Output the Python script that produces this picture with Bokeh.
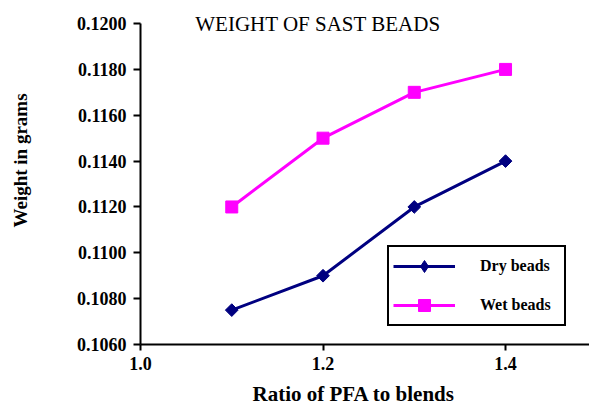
import numpy as np
from bokeh.plotting import figure
from bokeh.models import FixedTicker, NumeralTickFormatter, Label, Legend, LegendItem, Title
from bokeh.embed import file_html
from bokeh.resources import INLINE

# ---- data ----
ratio = [1.1, 1.2, 1.3, 1.4]
dry_beads = [0.1075, 0.1090, 0.1120, 0.1140]
wet_beads = [0.1120, 0.1150, 0.1170, 0.1180]
x_ticks = [1.0, 1.2, 1.4]
y_ticks = [0.1060, 0.1080, 0.1100, 0.1120, 0.1140, 0.1160, 0.1180, 0.1200]
title_text = "WEIGHT OF SAST BEADS"
x_label = "Ratio of PFA to blends"
y_label = "Weight in grams"
series_names = ["Dry beads", "Wet beads"]

SERIF = "Liberation Serif"

p = figure(width=589, height=412, output_backend="svg", toolbar_location=None,
           x_range=(1.0, 1.492), y_range=(0.1060, 0.12057),
           min_border_left=140, min_border_right=0, min_border_top=10, min_border_bottom=68)
p.outline_line_color = None
p.xgrid.visible = False
p.ygrid.visible = False
p.background_fill_color = "white"
p.border_fill_color = "white"

dry_col = "#000080"
wet_col = "#FF00FF"

dry_line = p.line(ratio, dry_beads, line_color=dry_col, line_width=3)
p.scatter(ratio, dry_beads, marker="square", angle=np.pi / 4, size=9,
          fill_color=dry_col, line_color=dry_col)
dry_key = p.scatter(ratio, dry_beads, marker="diamond", size=12,
                    fill_color=dry_col, line_color=dry_col, visible=False)
wet_line = p.line(ratio, wet_beads, line_color=wet_col, line_width=3)
wet_pts = p.scatter(ratio, wet_beads, marker="square", size=12,
                    fill_color=wet_col, line_color=wet_col)

for ax in (p.xaxis[0], p.yaxis[0]):
    ax.axis_line_width = 2
    ax.axis_line_color = "black"
    ax.major_tick_line_width = 2
    ax.major_tick_line_color = "black"
    ax.major_tick_in = 0
    ax.major_tick_out = 7
    ax.minor_tick_line_color = None
    ax.major_label_text_font = SERIF
    ax.major_label_text_font_style = "bold"
    ax.major_label_text_font_size = "18px"
    ax.major_label_text_color = "black"

p.xaxis.ticker = FixedTicker(ticks=x_ticks)
p.xaxis.formatter = NumeralTickFormatter(format="0.0")
p.xaxis.major_tick_out = 6
p.xaxis.major_label_standoff = 6

p.yaxis.ticker = FixedTicker(ticks=y_ticks)
p.yaxis.formatter = NumeralTickFormatter(format="0.0000")
p.yaxis.bounds = (0.1060, 0.1200)
p.yaxis.major_label_standoff = 7

# spacer between y tick labels and the y axis title
spacer = Title(text=" ", standoff=30, text_font_size="1px")
p.add_layout(spacer, "left")
ylab = Title(text=y_label, align="left", offset=117, standoff=16, vertical_align="top",
             text_font=SERIF, text_font_style="bold", text_font_size="19px",
             text_color="black")
p.add_layout(ylab, "left")
xlab = Title(text=x_label, align="left", offset=112, standoff=14,
             text_font=SERIF, text_font_style="bold", text_font_size="21px",
             text_color="black")
p.add_layout(xlab, "below")

title = Label(x=1.06, y=0.1200, text=title_text, text_font=SERIF,
              text_font_size="21px", text_color="black",
              text_baseline="middle", text_align="left")
p.add_layout(title)

lg = Legend(items=[LegendItem(label=series_names[0], renderers=[dry_line, dry_key]),
                   LegendItem(label=series_names[1], renderers=[wet_line, wet_pts])])
lg.location = (247, 18)
lg.padding = 4
lg.spacing = 9
lg.glyph_height = 30
lg.glyph_width = 62
lg.label_standoff = 25
lg.label_width = 80
lg.label_text_font = SERIF
lg.label_text_font_style = "bold"
lg.label_text_font_size = "16px"
lg.label_text_color = "black"
lg.border_line_color = "black"
lg.border_line_alpha = 1.0
lg.border_line_width = 2
lg.background_fill_color = "white"
lg.background_fill_alpha = 1.0
lg.margin = 0
p.add_layout(lg)

open("out.html", "w").write(file_html(p, INLINE))
